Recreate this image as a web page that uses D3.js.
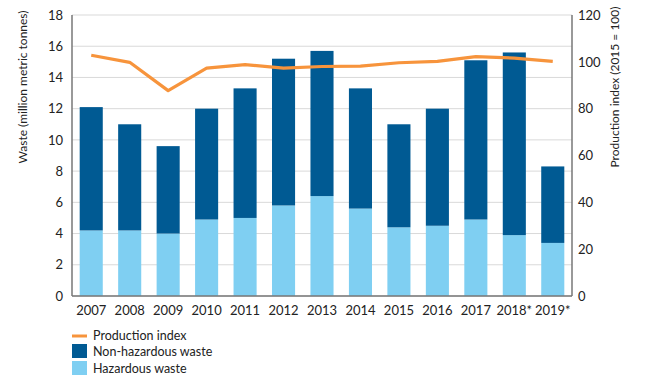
<!DOCTYPE html>
<html><head><meta charset="utf-8">
<script src="https://cdn.jsdelivr.net/npm/d3@7"></script>
<style>body{margin:0;background:#fff}svg{display:block}text{font-family:Lato,"Open Sans",sans-serif;fill:#222}</style>
</head><body><svg id="c" width="652" height="383"></svg>
<script>
const years = ["2007","2008","2009","2010","2011","2012","2013","2014","2015","2016","2017","2018*","2019*"];
const hazardous = [4.2,4.2,4.0,4.9,5.0,5.8,6.4,5.6,4.4,4.5,4.9,3.9,3.4];
const totalWaste = [12.1,11.0,9.6,12.0,13.3,15.2,15.7,13.3,11.0,12.0,15.1,15.6,8.3];
const nonHazardous = totalWaste.map((t,i)=>+(t-hazardous[i]).toFixed(1));
const productionIndex = [102.8,99.8,87.7,97.3,98.8,97.3,98.0,98.2,99.6,100.2,102.2,101.6,100.2];
const leftTicks = [0,2,4,6,8,10,12,14,16,18];
const rightTicks = [0,20,40,60,80,100,120];
const legendItems = ["Production index","Non-hazardous waste","Hazardous waste"];

const colors = {dark:"#005a93", light:"#7fcff2", orange:"#f7943c"};
const svg = d3.select("#c");
const m = {l:72, r:572, t:15, b:296};
const x = d3.scaleBand().domain(years).range([m.l,m.r]).paddingInner(0.4).paddingOuter(0.2);
const yL = d3.scaleLinear().domain([0,18]).range([m.b,m.t]);
const yR = d3.scaleLinear().domain([0,120]).range([m.b,m.t]);

// gridlines
svg.append("g").selectAll("line").data(leftTicks).join("line")
  .attr("x1",m.l).attr("x2",m.r).attr("y1",d=>yL(d)).attr("y2",d=>yL(d))
  .attr("stroke","#d9d9d9").attr("stroke-width",1);

// bars
const bars = svg.append("g");
bars.selectAll("rect.h").data(years).join("rect").attr("class","h")
  .attr("x",d=>x(d)).attr("width",x.bandwidth())
  .attr("y",(d,i)=>yL(hazardous[i])).attr("height",(d,i)=>yL(0)-yL(hazardous[i]))
  .attr("fill",colors.light);
bars.selectAll("rect.n").data(years).join("rect").attr("class","n")
  .attr("x",d=>x(d)).attr("width",x.bandwidth())
  .attr("y",(d,i)=>yL(hazardous[i]+nonHazardous[i])).attr("height",(d,i)=>yL(hazardous[i])-yL(hazardous[i]+nonHazardous[i]))
  .attr("fill",colors.dark);

// line
const line = d3.line().x((d,i)=>x(years[i])+x.bandwidth()/2).y(d=>yR(d));
svg.append("path").datum(productionIndex).attr("d",line)
  .attr("fill","none").attr("stroke",colors.orange).attr("stroke-width",3.2).attr("stroke-linejoin","round");

// axes
const axL = d3.axisLeft(yL).tickValues(leftTicks).tickSize(0).tickPadding(9);
const gL = svg.append("g").attr("transform",`translate(${m.l},0)`).call(axL);
const axR = d3.axisRight(yR).tickValues(rightTicks).tickSize(0).tickPadding(6);
const gR = svg.append("g").attr("transform",`translate(${m.r},0)`).call(axR);
const axB = d3.axisBottom(x).tickSize(0).tickPadding(10);
const gB = svg.append("g").attr("transform",`translate(0,${m.b})`).call(axB);
[gL,gR,gB].forEach(g=>{
  g.select(".domain").attr("stroke","#777").attr("stroke-width",1.5);
  g.selectAll("text").attr("font-size",13).attr("font-family","Lato").attr("fill","#222");
});
gB.select(".domain").attr("d",`M${m.l},0H${m.r}`);
gL.select(".domain").attr("d",`M0,${m.b}V${m.t}`);
gR.select(".domain").attr("d",`M0,${m.b}V${m.t}`);

// axis titles
svg.append("text").attr("transform","translate(27,87) rotate(-90)").attr("text-anchor","middle")
  .attr("font-size",12).text("Waste (million metric tonnes)");
svg.append("text").attr("transform","translate(619,87) rotate(-90)").attr("text-anchor","middle")
  .attr("font-size",12).text("Production index (2015 = 100)");

// legend
const lg = svg.append("g");
lg.append("line").attr("x1",72).attr("x2",87).attr("y1",336).attr("y2",336).attr("stroke",colors.orange).attr("stroke-width",3);
lg.append("rect").attr("x",72).attr("y",344).attr("width",15).attr("height",14).attr("fill",colors.dark);
lg.append("rect").attr("x",72).attr("y",361).attr("width",15).attr("height",14).attr("fill",colors.light);
lg.selectAll("text").data(legendItems).join("text")
  .attr("x",93).attr("y",(d,i)=>[340,356,373][i]).attr("font-size",12.5).text(d=>d);
</script></body></html>
